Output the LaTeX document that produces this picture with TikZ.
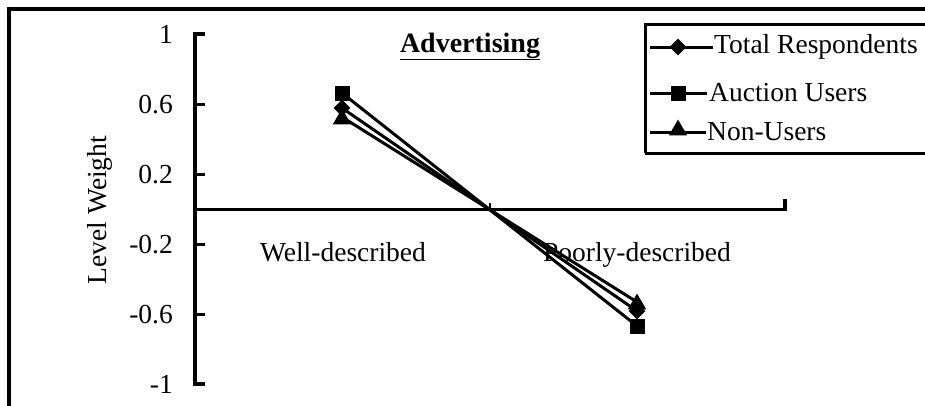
\documentclass[tikz,border=0pt]{standalone}
\usepackage{fontspec}
\setmainfont{Liberation Serif}
\usetikzlibrary{shapes.geometric}
\begin{document}
\begin{tikzpicture}[x=1pt,y=-1pt,
  axisline/.style={line width=3.4pt},
  series/.style={line width=3pt},
  sqmark/.style={rectangle, fill=black, minimum size=15pt, inner sep=0pt},
  dmmark/.style={diamond, fill=black, minimum width=17pt, minimum height=17pt, inner sep=0pt},
  trimark/.style={regular polygon, regular polygon sides=3, fill=black, minimum size=21pt, inner sep=0pt},
  lbl/.style={font=\fontsize{27.5}{30}\selectfont, inner sep=0pt},
  ticklbl/.style={lbl, anchor=east}
]
\useasboundingbox (0,0) rectangle (925,405);

% outer frame, running off the right and bottom edges
\draw[axisline] (9,420) -- (9,9) -- (940,9);

% value axis with inward ticks
\draw[axisline] (205,34) -- (195,34) -- (195,384) -- (205,384);
\foreach \v in {0.6, 0.2, -0.2, -0.6}
  \draw[axisline] (195,{209.5-175*\v}) -- (205,{209.5-175*\v});
\foreach \v/\t in {1/1, 0.6/0.6, 0.2/0.2, -0.2/-0.2, -0.6/-0.6, -1/-1}
  \node[ticklbl] at (173,{209.5-175*\v}) {\t};
\node[lbl, rotate=90] (ytitle) at (100,210) {Level Weight};

% category axis
\draw[axisline] (195,209.5) -- (785,209.5) -- (785,199);
\draw[line width=2pt] (490,209.5) -- (490,203);
\node[lbl, anchor=base] (cat1) at (343,261) {Well-described};
\node[lbl, anchor=base] (cat2) at (637,261) {Poorly-described};

% chart title
\node[font=\fontsize{28}{30}\selectfont\bfseries, inner sep=0pt, anchor=base] (title) at (470,52) {\underline{Advertising}};

% series points
\coordinate (aL) at (342,93);
\coordinate (aR) at (637,326);
\coordinate (tL) at (342,108);
\coordinate (tR) at (637,311);
\coordinate (nL) at (342,117);
\coordinate (nR) at (637,302);

\draw[series] (aL) -- (aR);
\draw[series] (tL) -- (tR);
\draw[series] (nL) -- (nR);

\node[sqmark] (aLm) at (aL) {};
\node[sqmark] (aRm) at (aR) {};
\node[dmmark] (tLm) at (tL) {};
\node[dmmark] (tRm) at (tR) {};
\node[trimark] (nLm) at ([yshift=-2pt]nL) {};
\node[trimark] (nRm) at ([yshift=-2pt]nR) {};

% legend
\draw[line width=3pt] (645,153) -- (645,24) -- (940,24);
\draw[line width=3pt] (645,153) -- (940,153);
\coordinate (l1a) at (650,47);  \coordinate (l1b) at (713,47);
\coordinate (l2a) at (650,93);  \coordinate (l2b) at (707,93);
\coordinate (l3a) at (650,132); \coordinate (l3b) at (706,132);
\draw[series] (l1a) -- (l1b);
\draw[series] (l2a) -- (l2b);
\draw[series] (l3a) -- (l3b);
\node[dmmark] (k1) at (678,47) {};
\node[sqmark] (k2) at (678,93) {};
\node[trimark] (k3) at (678,130) {};
\node[lbl, anchor=west] (e1) at ([xshift=1pt]l1b) {Total Respondents};
\node[lbl, anchor=west] (e2) at ([xshift=2pt]l2b) {Auction Users};
\node[lbl, anchor=west] (e3) at ([xshift=1pt]l3b) {Non-Users};
\end{tikzpicture}
\end{document}
